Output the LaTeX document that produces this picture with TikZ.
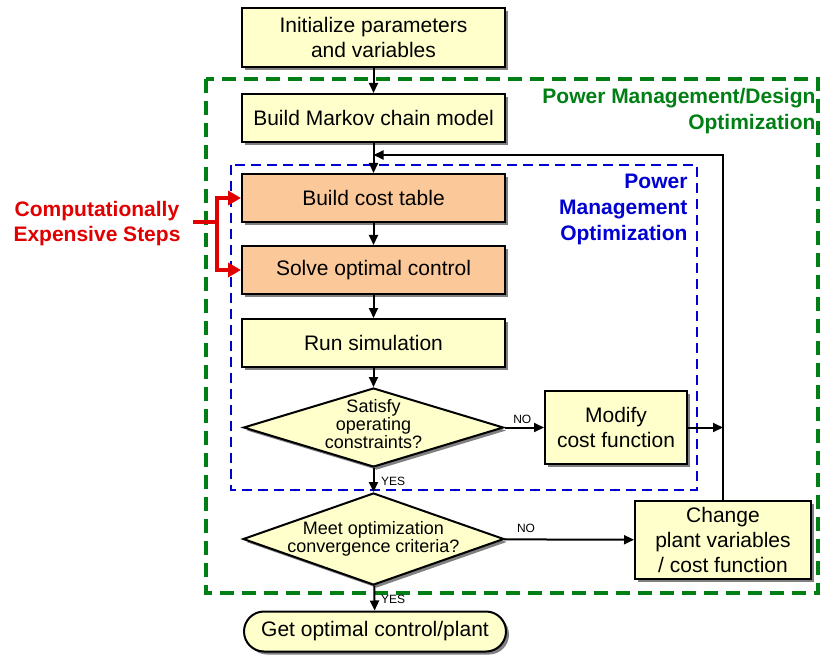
\documentclass[tikz,border=0pt]{standalone}
\usepackage{fontspec}
\setmainfont{Liberation Sans}
\usetikzlibrary{shapes.geometric,shadows,arrows.meta}
\definecolor{boxyellow}{RGB}{255,255,204}
\definecolor{boxorange}{RGB}{251,201,153}
\definecolor{grn}{RGB}{0,128,20}
\definecolor{blu}{RGB}{0,0,210}
\definecolor{rd}{RGB}{225,0,0}
\tikzset{
  shad/.style={drop shadow={shadow xshift=3pt, shadow yshift=-3pt, fill=black!50, opacity=1}},
  procbox/.style={draw=black, line width=2pt, fill=boxyellow, shad, minimum width=263pt, minimum height=48pt, inner sep=0pt, align=center, font=\fontsize{21}{25}\selectfont},
  hotbox/.style={procbox, fill=boxorange},
  decbox/.style={draw=black, line width=2pt, fill=boxyellow, shad, diamond, aspect=3, inner sep=0pt},
  dectext/.style={align=center, font=\fontsize{18}{18}\selectfont},
  arr/.style={draw=black, line width=2pt, -{Triangle[length=10pt,width=9pt]}},
  redarr/.style={draw=rd, line width=3.5pt, -{Triangle[length=13pt,width=14pt]}},
  smalllbl/.style={font=\fontsize{12}{12}\selectfont},
}
\begin{document}
\begin{tikzpicture}[x=1pt,y=-1pt]
\useasboundingbox (0,0) rectangle (821,660);
% dashed frames
\draw[grn, line width=3.5pt, dash pattern=on 14pt off 8pt] (206,79) rectangle (818,593);
\draw[blu, line width=2.5pt, dash pattern=on 10pt off 6pt] (231,165) rectangle (697,490);
\node[grn, anchor=east, align=right, font=\bfseries\fontsize{21}{26}\selectfont] (glbl) at (819,111) {Power Management/Design\\Optimization};
\node[blu, anchor=east, align=right, font=\bfseries\fontsize{21}{26}\selectfont] (blbl) at (691,209) {Power\\Management\\Optimization};
% nodes
\node[procbox, minimum height=59pt] (init) at (373.5,37.5) {Initialize parameters\\and variables};
\node[procbox] (markov) at (373.5,118) {Build Markov chain model};
\node[hotbox] (cost) at (373.5,198) {Build cost table};
\node[hotbox] (solve) at (373.5,270) {Solve optimal control};
\node[procbox] (sim) at (373.5,343) {Run simulation};
\node[decbox, minimum width=260pt, minimum height=79pt] (d1) at (373.5,427.5) {};
\node[dectext] (d1t) at (373.5,424) {Satisfy\\operating\\constraints?};
\node[procbox, minimum width=142pt, minimum height=73pt] (mod) at (616,427.5) {Modify\\cost function};
\node[decbox, minimum width=261pt, minimum height=92pt] (d2) at (373.5,539) {};
\node[dectext] (d2t) at (373.5,539) {Meet optimization\\convergence criteria?};
\node[procbox, minimum width=176pt, minimum height=78pt] (chg) at (723,540) {Change\\plant variables\\/ cost function};
\node[procbox, minimum width=262pt, minimum height=40pt, rounded corners=20pt] (get) at (375,631.5) {Get optimal control/plant};
% red annotation
\node[rd, align=center, font=\bfseries\fontsize{21}{25}\selectfont] (hot) at (97,224) {Computationally\\Expensive Steps};
\coordinate (rs) at (193,222);
\coordinate (rj) at (217,222);
\draw[rd, line width=3.5pt] (rs) -- (rj);
\draw[redarr] (rj) |- (cost.west);
\draw[redarr] (rj) |- (solve.west);
% connectors
\coordinate (fbj) at (373.5,155);
\coordinate (mj) at (723,427.5);
\draw[arr] (init) -- (markov);
\draw[arr] (markov) -- (cost);
\draw[arr] (cost) -- (solve);
\draw[arr] (solve) -- (sim);
\draw[arr] (sim) -- (d1);
\draw[arr] (d1) -- node[pos=0.45, above, smalllbl] (no1) {NO} (mod);
\draw[arr] (d1) -- (d2);
\node[smalllbl] (yes1) at (393,481) {YES};
\draw[arr] (d2) -- node[pos=0.17, above=2pt, smalllbl] (no2) {NO} (chg);
\draw[arr] (d2) -- (get);
\node[smalllbl] (yes2) at (393,599) {YES};
\draw[arr] (mod.east) -- (mj);
\draw[arr] (chg.north) |- (fbj);
\end{tikzpicture}
\end{document}
